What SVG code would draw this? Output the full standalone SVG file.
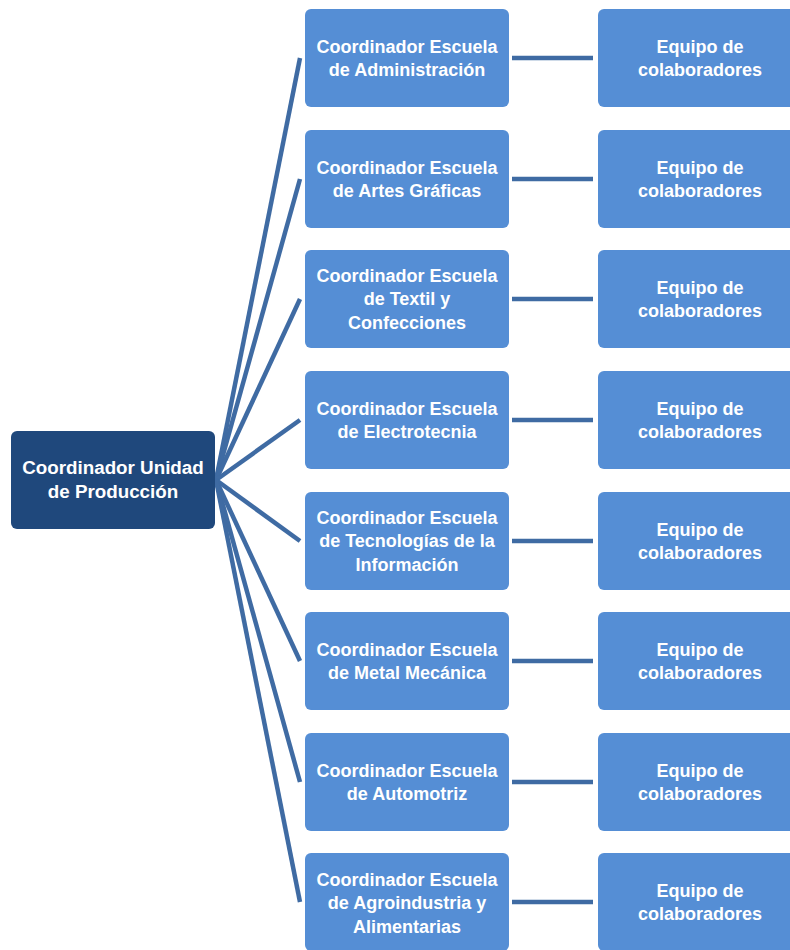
<svg xmlns="http://www.w3.org/2000/svg" width="790" height="950" viewBox="0 0 790 950">
<style>
.root{fill:#1f487c;}
.mid{fill:#558ed5;}
.eq{fill:#558ed5;}
.t{font-family:"Liberation Sans",Arial,sans-serif;font-weight:bold;font-size:18px;fill:#ffffff;text-anchor:middle;}
.tr{font-size:18.8px;}
.c{stroke:#3f6ba3;stroke-width:4.5;fill:none;stroke-linecap:butt;}
</style>
<rect width="790" height="950" fill="#ffffff"/>
<g id="connectors">
<line class="c" x1="216" y1="480" x2="300" y2="58"/>
<line class="c" x1="216" y1="480" x2="300" y2="179"/>
<line class="c" x1="216" y1="480" x2="300" y2="299"/>
<line class="c" x1="216" y1="480" x2="300" y2="420"/>
<line class="c" x1="216" y1="480" x2="300" y2="541"/>
<line class="c" x1="216" y1="480" x2="300" y2="661"/>
<line class="c" x1="216" y1="480" x2="300" y2="782"/>
<line class="c" x1="216" y1="480" x2="300" y2="902"/>
<line class="c" x1="512" y1="58" x2="593" y2="58"/>
<line class="c" x1="512" y1="179" x2="593" y2="179"/>
<line class="c" x1="512" y1="299" x2="593" y2="299"/>
<line class="c" x1="512" y1="420" x2="593" y2="420"/>
<line class="c" x1="512" y1="541" x2="593" y2="541"/>
<line class="c" x1="512" y1="661" x2="593" y2="661"/>
<line class="c" x1="512" y1="782" x2="593" y2="782"/>
<line class="c" x1="512" y1="902" x2="593" y2="902"/>
</g>
<g id="root">
<rect class="root" x="11" y="431" width="204" height="98" rx="6"/>
<text class="t tr" x="113" y="474">Coordinador Unidad</text>
<text class="t tr" x="113" y="498">de Producción</text>
</g>
<g id="n1">
<rect class="mid" x="305" y="9" width="204" height="98" rx="6"/>
<text class="t" x="407" y="53">Coordinador Escuela</text>
<text class="t" x="407" y="76">de Administración</text>
</g>
<g id="n2">
<rect class="mid" x="305" y="130" width="204" height="98" rx="6"/>
<text class="t" x="407" y="174">Coordinador Escuela</text>
<text class="t" x="407" y="197">de Artes Gráficas</text>
</g>
<g id="n3">
<rect class="mid" x="305" y="250" width="204" height="98" rx="6"/>
<text class="t" x="407" y="282">Coordinador Escuela</text>
<text class="t" x="407" y="305">de Textil y</text>
<text class="t" x="407" y="329">Confecciones</text>
</g>
<g id="n4">
<rect class="mid" x="305" y="371" width="204" height="98" rx="6"/>
<text class="t" x="407" y="415">Coordinador Escuela</text>
<text class="t" x="407" y="438">de Electrotecnia</text>
</g>
<g id="n5">
<rect class="mid" x="305" y="492" width="204" height="98" rx="6"/>
<text class="t" x="407" y="524">Coordinador Escuela</text>
<text class="t" x="407" y="547">de Tecnologías de la</text>
<text class="t" x="407" y="571">Información</text>
</g>
<g id="n6">
<rect class="mid" x="305" y="612" width="204" height="98" rx="6"/>
<text class="t" x="407" y="656">Coordinador Escuela</text>
<text class="t" x="407" y="679">de Metal Mecánica</text>
</g>
<g id="n7">
<rect class="mid" x="305" y="733" width="204" height="98" rx="6"/>
<text class="t" x="407" y="777">Coordinador Escuela</text>
<text class="t" x="407" y="800">de Automotriz</text>
</g>
<g id="n8">
<rect class="mid" x="305" y="853" width="204" height="98" rx="6"/>
<text class="t" x="407" y="886">Coordinador Escuela</text>
<text class="t" x="407" y="909">de Agroindustria y</text>
<text class="t" x="407" y="933">Alimentarias</text>
</g>
<g id="e1">
<rect class="eq" x="598" y="9" width="204" height="98" rx="6"/>
<text class="t" x="700" y="53">Equipo de</text>
<text class="t" x="700" y="76">colaboradores</text>
</g>
<g id="e2">
<rect class="eq" x="598" y="130" width="204" height="98" rx="6"/>
<text class="t" x="700" y="174">Equipo de</text>
<text class="t" x="700" y="197">colaboradores</text>
</g>
<g id="e3">
<rect class="eq" x="598" y="250" width="204" height="98" rx="6"/>
<text class="t" x="700" y="294">Equipo de</text>
<text class="t" x="700" y="317">colaboradores</text>
</g>
<g id="e4">
<rect class="eq" x="598" y="371" width="204" height="98" rx="6"/>
<text class="t" x="700" y="415">Equipo de</text>
<text class="t" x="700" y="438">colaboradores</text>
</g>
<g id="e5">
<rect class="eq" x="598" y="492" width="204" height="98" rx="6"/>
<text class="t" x="700" y="536">Equipo de</text>
<text class="t" x="700" y="559">colaboradores</text>
</g>
<g id="e6">
<rect class="eq" x="598" y="612" width="204" height="98" rx="6"/>
<text class="t" x="700" y="656">Equipo de</text>
<text class="t" x="700" y="679">colaboradores</text>
</g>
<g id="e7">
<rect class="eq" x="598" y="733" width="204" height="98" rx="6"/>
<text class="t" x="700" y="777">Equipo de</text>
<text class="t" x="700" y="800">colaboradores</text>
</g>
<g id="e8">
<rect class="eq" x="598" y="853" width="204" height="98" rx="6"/>
<text class="t" x="700" y="897">Equipo de</text>
<text class="t" x="700" y="920">colaboradores</text>
</g>
</svg>
